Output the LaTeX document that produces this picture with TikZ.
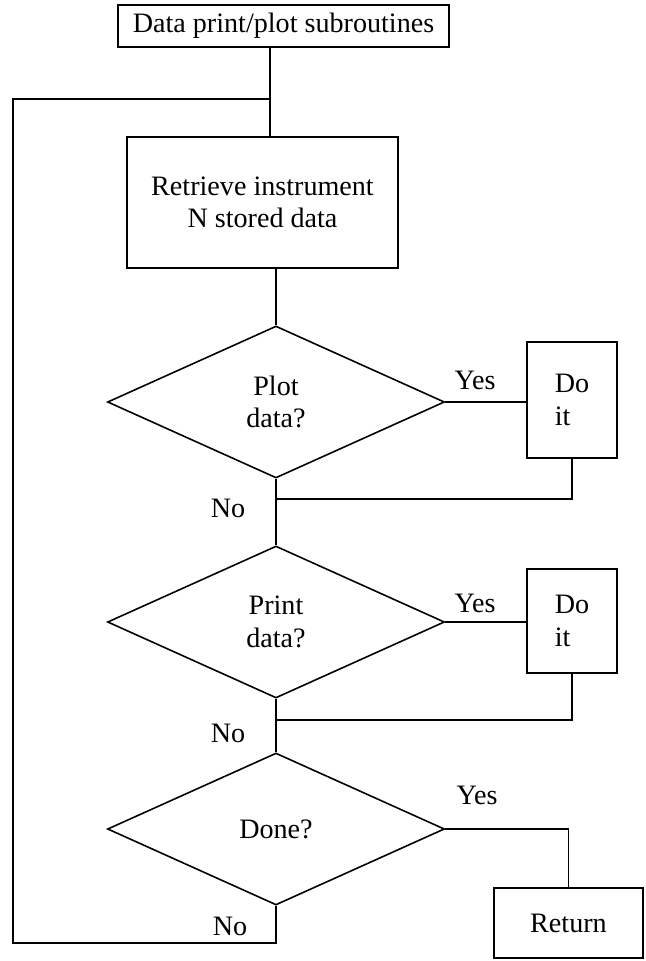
\documentclass[tikz,border=0pt]{standalone}
\usepackage{fontspec}
\setmainfont{Liberation Serif}
\usetikzlibrary{shapes.geometric}
\tikzset{
    procbox/.style={draw, rectangle, inner sep=0pt, align=center},
    decision/.style={draw, diamond, inner sep=0pt, minimum width=6.74cm, minimum height=3.04cm, align=center},
}
\begin{document}
\begin{tikzpicture}[x=0.2mm, y=-0.2mm, line width=0.9pt, font=\fontsize{16}{18.5}\selectfont]
            \useasboundingbox (0,0) rectangle (646,961);

            \node[procbox, minimum width=6.62cm, minimum height=0.84cm] (title) at (283.5,26) {Data print/plot subroutines};
            \node[procbox, minimum width=5.42cm, minimum height=2.62cm] (fetch) at (262.5,202.5) {Retrieve instrument\\N stored data};
            \node[decision] (plotq) at (276,402) {Plot\\data?};
            \node[decision] (printq) at (276,622) {Print\\data?};
            \node[decision] (doneq) at (276,829) {Done?};
            \node[procbox, align=left, minimum width=1.8cm, minimum height=2.32cm] (doplot) at (572,400) {Do\\it};
            \node[procbox, align=left, minimum width=1.8cm, minimum height=2.08cm] (doprint) at (572,621) {Do\\it};
            \node[procbox, minimum width=2.98cm, minimum height=1.4cm] (ret) at (568.5,923) {Return};

            \coordinate (loopin) at (270,99);
            \coordinate (upleft) at (13,99);
            \coordinate (lowleft) at (13,943);
            \coordinate (back) at (276,943);
            \coordinate (join1) at (276,499);
            \coordinate (join2) at (276,720);

            \draw (title.south -| loopin) -- (fetch.north -| loopin);
            \draw (fetch.south -| plotq.north) -- (plotq.north);
            \draw (plotq.south) -- (printq.north);
            \draw (printq.south) -- (doneq.north);
            \draw (plotq.east) -- (plotq.east -| doplot.west);
            \draw (doplot.south) |- (join1);
            \draw (printq.east) -- (printq.east -| doprint.west);
            \draw (doprint.south) |- (join2);
            \draw (doneq.east) -| (ret.north);
            \draw (doneq.south) -- (back) -- (lowleft) -- (upleft) -- (loopin);

            \node (yes1) at (475,380) {Yes};
            \node (yes2) at (475,603) {Yes};
            \node (yes3) at (477,795) {Yes};
            \node (no1) at (228,508) {No};
            \node (no2) at (228,733) {No};
            \node (no3) at (230,926) {No};
        \end{tikzpicture}
\end{document}
